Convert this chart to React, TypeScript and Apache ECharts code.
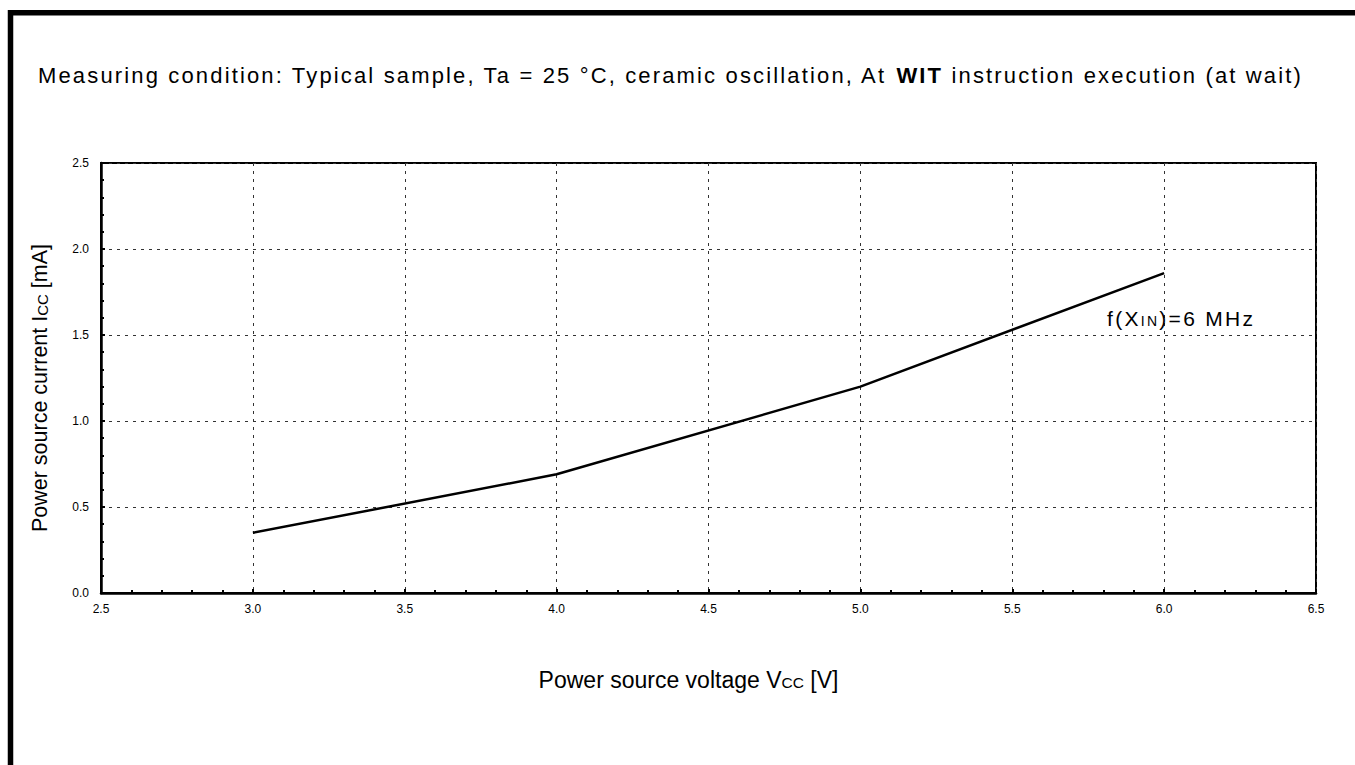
import React, { useEffect, useRef } from "react";
import * as echarts from "echarts";

const voltage = [3.0, 4.0, 5.0, 6.0];
const current = [0.35, 0.69, 1.2, 1.86];
const xTicks = [2.5, 3.0, 3.5, 4.0, 4.5, 5.0, 5.5, 6.0, 6.5];
const yTicks = [0.0, 0.5, 1.0, 1.5, 2.0, 2.5];
const titleParts = ["Measuring condition: Typical sample, Ta = 25 °C, ceramic oscillation, At ", "WIT", " instruction execution (at wait)"];
const xNameParts = ["Power source voltage V", "CC", " [V]"];
const yNameParts = ["Power source current I", "CC", " [mA]"];
const curveLabelParts = ["f(X", "IN", ")=6 MHz"];

const BASE = "'Liberation Sans'";
// family markers used by the stylesheet to apply letter spacing
const F_TITLE = "'Liberation Sans', Arial";
const F_NOTE = "'Liberation Sans', sans-serif";
const LS_TITLE = 2.15;
const LS_NOTE = 2.3;

const pad = (s: string, ls: number, top = 0) => [top, s.length * ls, 0, 0];

export default function App() {
  const ref = useRef<HTMLDivElement>(null);
  useEffect(() => {
    if (!ref.current) return;
    const chart = echarts.init(ref.current, null, { renderer: "svg" });
    const data = voltage.map((v, i) => [v, current[i]]);
    chart.setOption({
      animation: false,
      backgroundColor: "#fff",
      textStyle: { fontFamily: BASE, color: "#000" },
      title: {
        text: `{a|${titleParts[0]}}{b|${titleParts[1]}}{c|${titleParts[2]}}`,
        left: 33,
        top: 59,
        textStyle: {
          fontFamily: F_TITLE,
          fontSize: 22,
          fontWeight: "normal",
          color: "#000",
          rich: {
            a: { fontFamily: F_TITLE, fontSize: 22, color: "#000", padding: pad(titleParts[0], LS_TITLE) },
            b: { fontFamily: F_TITLE, fontSize: 22, fontWeight: "bold", color: "#000", padding: pad(titleParts[1], LS_TITLE) },
            c: { fontFamily: F_TITLE, fontSize: 22, color: "#000", padding: pad(titleParts[2], LS_TITLE) },
          },
        },
      },
      grid: {
        left: 101,
        top: 163,
        right: 39,
        bottom: 172,
        show: true,
        borderColor: "#000",
        borderWidth: 2,
        backgroundColor: "transparent",
      },
      xAxis: {
        type: "value",
        min: xTicks[0],
        max: xTicks[xTicks.length - 1],
        interval: 0.5,
        name: `{a|${xNameParts[0]}}{s|${xNameParts[1]}}{a|${xNameParts[2]}}`,
        nameLocation: "middle",
        nameGap: 75,
        nameTextStyle: {
          fontFamily: BASE,
          fontSize: 23,
          color: "#000",
          padding: [0, 40, 0, 0],
          rich: {
            a: { fontFamily: BASE, fontSize: 23, color: "#000" },
            s: { fontFamily: BASE, fontSize: 15.5, color: "#000", verticalAlign: "middle", padding: [5, 0, 0, 0] },
          },
        },
        axisLine: { show: true, lineStyle: { color: "#000", width: 2.5 } },
        axisTick: { show: true, inside: true, length: 4, lineStyle: { color: "#000", width: 2 } },
        minorTick: { show: true, splitNumber: 5, length: 3, lineStyle: { color: "#000", width: 2 } },
        axisLabel: {
          color: "#000",
          fontFamily: BASE,
          fontSize: 12,
          margin: 10,
          formatter: (v: number) => v.toFixed(1),
        },
        splitLine: { show: true, lineStyle: { color: "#333", width: 1, type: [3, 5] } },
      },
      yAxis: {
        type: "value",
        min: yTicks[0],
        max: yTicks[yTicks.length - 1],
        interval: 0.5,
        name: `{a|${yNameParts[0]}}{s|${yNameParts[1]}}{a|${yNameParts[2]}}`,
        nameLocation: "middle",
        nameRotate: 90,
        nameGap: 50,
        nameTextStyle: {
          fontFamily: BASE,
          fontSize: 21.5,
          color: "#000",
          padding: [0, 20, 0, 0],
          rich: {
            a: { fontFamily: BASE, fontSize: 21.5, color: "#000" },
            s: { fontFamily: BASE, fontSize: 15, color: "#000", verticalAlign: "middle", padding: [5, 0, 0, 0] },
          },
        },
        axisLine: { show: true, lineStyle: { color: "#000", width: 2.5 } },
        axisTick: { show: true, inside: true, length: 4, lineStyle: { color: "#000", width: 2 } },
        minorTick: { show: true, splitNumber: 5, length: 3, lineStyle: { color: "#000", width: 2 } },
        axisLabel: {
          color: "#000",
          fontFamily: BASE,
          fontSize: 12,
          margin: 12,
          formatter: (v: number) => v.toFixed(1),
        },
        splitLine: { show: true, lineStyle: { color: "#333", width: 1, type: [3, 5] } },
      },
      series: [
        {
          type: "line",
          data,
          showSymbol: false,
          symbol: "none",
          lineStyle: { color: "#000", width: 2.5 },
          z: 5,
        },
      ],
      graphic: [
        {
          type: "rect",
          shape: { x: 10.5, y: 12.8, width: 3000, height: 3000 },
          style: { fill: "none", stroke: "#000", lineWidth: 5.5 },
          silent: true,
          z: 100,
        },
        {
          type: "text",
          x: 1107,
          y: 318,
          style: {
            text: `{a|${curveLabelParts[0]}}{s|${curveLabelParts[1]}}{c|${curveLabelParts[2]}}`,
            fontFamily: F_NOTE,
            fontSize: 21,
            verticalAlign: "middle",
            rich: {
              a: { fontFamily: F_NOTE, fontSize: 21, fill: "#000", padding: pad(curveLabelParts[0], LS_NOTE) },
              s: { fontFamily: F_NOTE, fontSize: 14, fill: "#000", verticalAlign: "middle", padding: pad(curveLabelParts[1], LS_NOTE, 5) },
              c: { fontFamily: F_NOTE, fontSize: 21, fill: "#000", padding: pad(curveLabelParts[2], LS_NOTE) },
            },
          },
          z: 50,
        },
      ],
    });
    return () => chart.dispose();
  }, []);
  const css = `
    #chartbox text[style*="Arial"] { letter-spacing: ${LS_TITLE}px; }
    #chartbox text[style*="sans-serif"] { letter-spacing: ${LS_NOTE}px; }
  `;
  return (
    <>
      <style>{css}</style>
      <div
        id="chartbox"
        ref={ref}
        style={{ position: "absolute", left: 0, top: 0, width: 1355, height: 765, background: "#fff" }}
      />
    </>
  );
}
